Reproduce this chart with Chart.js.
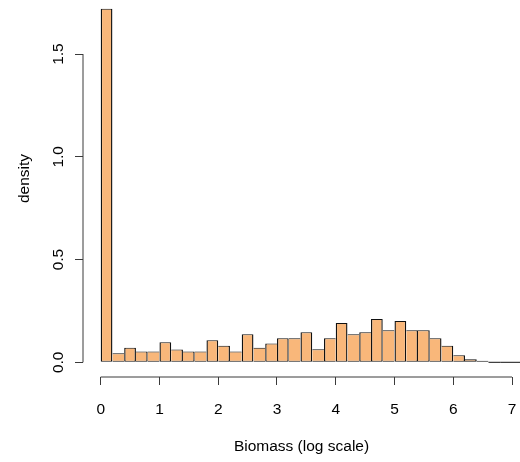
<!DOCTYPE html>
<html>
<head>
<meta charset="utf-8">
<script src="https://cdn.jsdelivr.net/npm/chart.js@4.4.1/dist/chart.umd.min.js"></script>
<style>
    html, body { margin: 0; padding: 0; background: #ffffff; }
    #histChart { display: block; }
</style>
</head>
<body>
<canvas id="histChart" width="520" height="462"></canvas>
<script>
// Histogram data (bin left edges, width 0.2, density)
const binStarts = [0.0, 0.2, 0.4, 0.6, 0.8, 1.0, 1.2, 1.4, 1.6, 1.8,
                   2.0, 2.2, 2.4, 2.6, 2.8, 3.0, 3.2, 3.4, 3.6, 3.8,
                   4.0, 4.2, 4.4, 4.6, 4.8, 5.0, 5.2, 5.4, 5.6, 5.8,
                   6.0, 6.2, 6.4, 6.6, 6.8, 7.0, 7.2];
const binWidth = 0.2;
const density = [1.72, 0.044, 0.071, 0.052, 0.052, 0.097, 0.062, 0.052, 0.052, 0.107,
                 0.081, 0.052, 0.136, 0.071, 0.091, 0.117, 0.117, 0.146, 0.063, 0.117,
                 0.191, 0.136, 0.146, 0.211, 0.156, 0.201, 0.156, 0.156, 0.117, 0.081,
                 0.034, 0.015, 0.007, 0, 0, 0, 0];
const xTicks = [0, 1, 2, 3, 4, 5, 6, 7];
const yTicks = [0, 0.5, 1.0, 1.5];

const barFill = '#F9B77A';
const barLine = '#111111';
const axisColor = '#3a3a3a';

// Bar border: each shared edge is drawn once, by the taller neighbour
function barBorder(ctx) {
    const i = ctx.dataIndex;
    const h = density[i];
    const prev = i > 0 ? density[i - 1] : -1;
    const next = i < density.length - 1 ? density[i + 1] : -1;
    return {
        top: 1,
        bottom: 1,
        left: prev < h ? 1.4 : 0,
        right: next <= h ? 1.4 : 0
    };
}

// Baseline for the empty bins at the right end
function zeroTail() {
    const pts = [];
    for (let i = 0; i < density.length; i++) {
        if (density[i] === 0) {
            pts.push({ x: binStarts[i], y: 0 });
            pts.push({ x: binStarts[i] + binWidth, y: 0 });
        }
    }
    return pts;
}

// R style detached axis lines, only from first to last tick
const rAxes = {
    id: 'rAxes',
    afterLayout(chart) {
        // R centres ylab on the (taller, cropped) plot region
        chart.scales.y.top = -20;
    },
    afterDraw(chart) {
        const c = chart.ctx;
        const xs = chart.scales.x;
        const ys = chart.scales.y;
        const area = chart.chartArea;
        c.save();
        c.strokeStyle = axisColor;
        c.lineWidth = 1;
        c.beginPath();
        c.moveTo(xs.getPixelForValue(xTicks[0]), area.bottom);
        c.lineTo(xs.getPixelForValue(xTicks[xTicks.length - 1]), area.bottom);
        c.moveTo(area.left, ys.getPixelForValue(yTicks[0]));
        c.lineTo(area.left, ys.getPixelForValue(yTicks[yTicks.length - 1]));
        c.stroke();
        c.restore();
    }
};

function loadHistogram() {
    Chart.defaults.font.family = '"Liberation Sans", Arial, Helvetica, sans-serif';
    Chart.defaults.font.size = 15.5;
    Chart.defaults.color = '#000000';

    const ctx = document.getElementById('histChart').getContext('2d');
    new Chart(ctx, {
        type: 'bar',
        data: {
            datasets: [{
                type: 'bar',
                label: 'density',
                data: binStarts.map((b, i) => ({ x: b + binWidth / 2, y: density[i] })),
                backgroundColor: barFill,
                borderColor: barLine,
                borderWidth: barBorder,
                borderSkipped: false,
                inflateAmount: 0,
                barPercentage: 1.0,
                categoryPercentage: 1.0
            }, {
                type: 'line',
                label: 'empty bins',
                data: zeroTail(),
                borderColor: barLine,
                borderWidth: 1,
                pointRadius: 0,
                fill: false
            }]
        },
        options: {
            responsive: false,
            animation: false,
            devicePixelRatio: 1,
            layout: { padding: 0 },
            plugins: {
                legend: { display: false },
                tooltip: { enabled: false }
            },
            scales: {
                x: {
                    type: 'linear',
                    offset: false,
                    min: -0.301,
                    max: 7.136,
                    afterBuildTicks: s => { s.ticks = xTicks.map(v => ({ value: v })); },
                    afterFit: s => { s.height = 85; s.paddingLeft = 0; s.paddingRight = 0; },
                    grid: { display: true, offset: false, drawOnChartArea: false, drawTicks: true, tickLength: 8, color: axisColor },
                    border: { display: false },
                    ticks: { padding: 15.5, maxRotation: 0, autoSkip: false, callback: v => String(v) },
                    title: { display: true, text: 'Biomass (log scale)', padding: { top: 0, bottom: 6 } }
                },
                y: {
                    type: 'linear',
                    min: -0.0715,
                    max: 1.763,
                    afterBuildTicks: s => { s.ticks = yTicks.map(v => ({ value: v })); },
                    afterFit: s => { s.width = 83; s.paddingTop = 0; s.paddingBottom = 0; },
                    grid: { display: true, drawOnChartArea: false, drawTicks: true, tickLength: 8, color: axisColor },
                    border: { display: false },
                    ticks: { padding: 6, minRotation: 90, maxRotation: 90, crossAlign: 'center', callback: v => v.toFixed(1) },
                    title: { display: true, text: 'density', padding: { top: 15, bottom: 0 } }
                }
            }
        },
        plugins: [rAxes]
    });
}

window.onload = function() {
    loadHistogram();
};
</script>
</body>
</html>
